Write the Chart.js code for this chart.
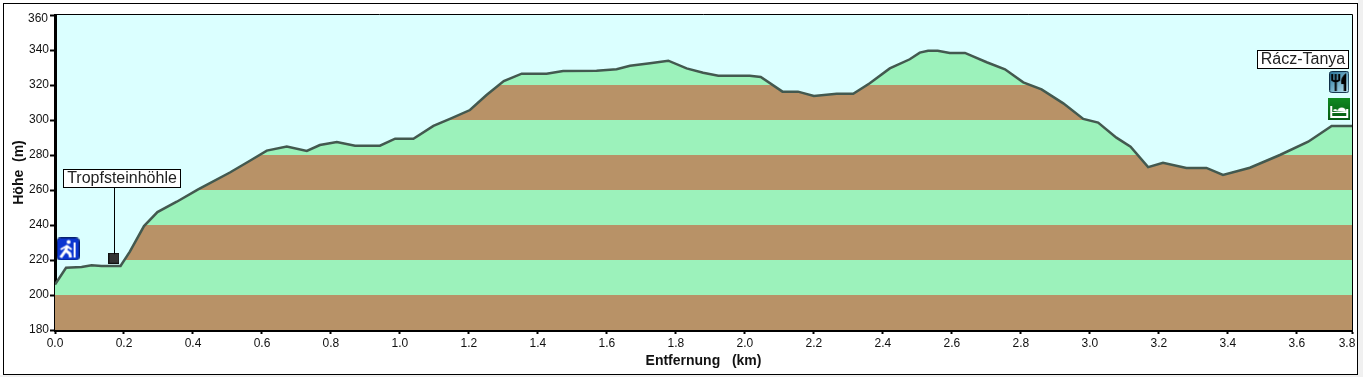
<!DOCTYPE html>
<html lang="de">
<head>
<meta charset="UTF-8">
<title>Höhenprofil</title>
<script src="https://cdn.jsdelivr.net/npm/chart.js"></script>
<style>
    html, body { margin: 0; padding: 0; background: #fff; }
    canvas { display: block; }
</style>
</head>
<body>
<canvas id="profil" width="1363" height="377"></canvas>
<script>
// Streckenprofil
const distanceKm = [0, 0.032, 0.077, 0.106, 0.135, 0.19, 0.217, 0.258, 0.297, 0.353, 0.415, 0.507, 0.565, 0.614, 0.672, 0.73, 0.768, 0.817, 0.87, 0.942, 0.986, 1.039, 1.097, 1.145, 1.203, 1.251, 1.301, 1.353, 1.425, 1.473, 1.57, 1.628, 1.667, 1.725, 1.778, 1.831, 1.879, 1.923, 2.014, 2.046, 2.109, 2.154, 2.2, 2.266, 2.314, 2.362, 2.42, 2.478, 2.507, 2.531, 2.559, 2.594, 2.638, 2.701, 2.754, 2.807, 2.86, 2.923, 2.981, 3.024, 3.077, 3.118, 3.169, 3.212, 3.28, 3.338, 3.386, 3.464, 3.551, 3.633, 3.701, 3.76];
const elevationM = [206, 215.6, 216, 217, 216.6, 216.6, 224.8, 239.4, 247.4, 253.3, 260.4, 270, 276.7, 282.5, 284.8, 282.3, 285.7, 287.4, 285.3, 285.3, 289.3, 289.3, 296.6, 300.6, 305.7, 314.3, 322.3, 326.5, 326.5, 328, 328.2, 329, 331, 332.4, 333.9, 329.5, 327, 325.3, 325.3, 324.6, 316.2, 316.2, 313.7, 315, 315, 321, 329.5, 334.7, 338.5, 339.6, 339.6, 338.3, 338.3, 333, 329, 321.5, 317.5, 309.5, 300.6, 298.5, 289.9, 284.7, 273.1, 275.6, 272.6, 272.6, 268.6, 272.7, 280, 287.6, 296.6, 296.6];

const xTicks = [0, 0.2, 0.4, 0.6, 0.8, 1, 1.2, 1.4, 1.6, 1.8, 2, 2.2, 2.4, 2.6, 2.8, 3, 3.2, 3.4, 3.6, 3.76];
const xTickLabels = ['0.0', '0.2', '0.4', '0.6', '0.8', '1.0', '1.2', '1.4', '1.6', '1.8', '2.0', '2.2', '2.4', '2.6', '2.8', '3.0', '3.2', '3.4', '3.6', '3.8'];
const yTicks = [180, 200, 220, 240, 260, 280, 300, 320, 340, 360];

// Höhenbänder
const bandEdges = [180, 200, 220, 240, 260, 280, 300, 320, 340, 360];
const bandColors = ['#b89267', '#9cf2bb', '#b89267', '#9cf2bb', '#b89267', '#9cf2bb', '#b89267', '#9cf2bb', '#b89267'];

// Symbole: Höhle, Wanderer, Restaurant, Hotel
const poiKm = [0.171, 0.038, 3.723, 3.723];
const poiHeight = [221, 226.3, 321.7, 306.3];

// Beschriftungen
const labelTexts = ['Tropfsteinhöhle', 'Rácz-Tanya'];
const labelKm = [0.194, 3.619];
const labelHeight = [266.6, 334.6];
const labelPoi = [0, null];

function iconCanvas(w, h, draw) {
    const c = document.createElement('canvas');
    c.width = w;
    c.height = h;
    draw(c.getContext('2d'), w, h);
    return c;
}

const caveIcon = iconCanvas(11, 11, (g, w, h) => {
    g.fillStyle = '#333';
    g.fillRect(0, 0, w, h);
    g.strokeStyle = '#111';
    g.strokeRect(0.5, 0.5, w - 1, h - 1);
});

const hikerIcon = iconCanvas(23, 23, (g, w, h) => {
    g.fillStyle = '#0b35d0';
    g.beginPath();
    g.roundRect(0.5, 0.5, w - 1, h - 1, 3);
    g.fill();
    g.strokeStyle = '#06206e';
    g.stroke();
    g.strokeStyle = '#fff';
    g.fillStyle = '#fff';
    g.lineWidth = 3;
    g.beginPath();
    g.arc(12, 4.5, 2, 0, Math.PI * 2);
    g.fill();
    g.beginPath();
    g.moveTo(11, 8); g.lineTo(9, 13); g.lineTo(13, 16); g.lineTo(14, 20);
    g.moveTo(9, 13); g.lineTo(4, 20);
    g.stroke();
    g.lineWidth = 2;
    g.beginPath();
    g.moveTo(11, 8); g.lineTo(4, 12);
    g.moveTo(11, 9); g.lineTo(15, 12);
    g.moveTo(18, 5); g.lineTo(18, 20);
    g.stroke();
});

const foodIcon = iconCanvas(20, 22, (g, w, h) => {
    const grad = g.createLinearGradient(0, 0, w, h);
    grad.addColorStop(0, '#1f6f96');
    grad.addColorStop(1, '#c4ecf8');
    g.fillStyle = grad;
    g.beginPath();
    g.roundRect(0.5, 0.5, w - 1, h - 1, 2);
    g.fill();
    g.strokeStyle = '#0f2f48';
    g.stroke();
    g.strokeStyle = '#000';
    g.fillStyle = '#000';
    g.lineWidth = 2;
    g.beginPath();
    g.moveTo(3, 3); g.lineTo(3, 9); g.quadraticCurveTo(6.5, 12, 10, 9); g.lineTo(10, 3);
    g.moveTo(6.5, 3); g.lineTo(6.5, 20);
    g.stroke();
    g.beginPath();
    g.moveTo(17, 2); g.quadraticCurveTo(11, 6, 12, 13); g.lineTo(14.5, 13); g.lineTo(14.5, 20); g.lineTo(17, 20);
    g.closePath();
    g.fill();
});

const bedIcon = iconCanvas(22, 22, (g, w, h) => {
    const grad = g.createLinearGradient(0, 0, 0, h);
    grad.addColorStop(0, '#0f8a22');
    grad.addColorStop(1, '#075a12');
    g.fillStyle = grad;
    g.fillRect(0, 0, w, h);
    g.fillStyle = '#fff';
    g.fillRect(2, 8, 2, 12);
    g.fillRect(18, 11, 2, 9);
    g.fillRect(2, 18, 18, 2);
    g.fillRect(4, 14, 14, 1);
    g.beginPath();
    g.arc(7, 13, 2, Math.PI, 0);
    g.arc(13.5, 14, 4.5, Math.PI, 0);
    g.fill();
});

const poiIcons = [caveIcon, hikerIcon, foodIcon, bedIcon];

function bandFill(context) {
    const { chart } = context;
    if (!chart.chartArea) return bandColors[0];
    const y = chart.scales.y;
    const grad = chart.ctx.createLinearGradient(0, y.getPixelForValue(180), 0, y.getPixelForValue(360));
    const span = 360 - 180;
    bandColors.forEach((col, i) => {
        grad.addColorStop((bandEdges[i] - 180) / span, col);
        grad.addColorStop((bandEdges[i + 1] - 180) / span, col);
    });
    return grad;
}

// Hintergrund, Rahmen
const framePlugin = {
    id: 'frame',
    beforeDraw(chart) {
        const { ctx, chartArea: a } = chart;
        ctx.save();
        ctx.fillStyle = '#fff';
        ctx.fillRect(0, 0, 1363, 377);
        ctx.fillStyle = '#f0f0f0';
        ctx.fillRect(1358, 0, 5, 377);
        ctx.fillRect(0, 375, 1363, 2);
        ctx.strokeStyle = '#000';
        ctx.lineWidth = 1;
        ctx.strokeRect(3.5, 3.5, 1354, 371);
        ctx.fillStyle = '#dbffff';
        ctx.fillRect(a.left, a.top, a.right - a.left, a.bottom - a.top);
        ctx.restore();
    },
    afterDraw(chart) {
        const { ctx, chartArea: a } = chart;
        ctx.save();
        ctx.strokeStyle = '#000';
        ctx.lineWidth = 1;
        ctx.beginPath();
        ctx.moveTo(a.left, a.top - 0.5);
        ctx.lineTo(a.right + 0.5, a.top - 0.5);
        ctx.lineTo(a.right + 0.5, a.bottom);
        ctx.stroke();
        ctx.restore();
    }
};

// Randbeschriftungen 360 und 3.8 sitzen im Original nach innen versetzt
const edgeLabelPlugin = {
    id: 'edgeLabels',
    afterDraw(chart) {
        const { ctx, scales } = chart;
        ctx.save();
        ctx.font = '12px "Liberation Sans"';
        ctx.fillStyle = '#111';
        ctx.textBaseline = 'middle';
        ctx.textAlign = 'right';
        ctx.fillText('360', 48, scales.y.getPixelForValue(360) + 4);
        ctx.textAlign = 'center';
        ctx.fillText('3.8', scales.x.getPixelForValue(3.76) - 5, 344);
        ctx.restore();
    }
};

// Wegpunkt-Beschriftungen mit Kasten und Hinweislinie
const poiLabelPlugin = {
    id: 'poiLabels',
    afterDatasetsDraw(chart) {
        const { ctx, scales } = chart;
        ctx.save();
        ctx.font = '16px "Liberation Sans"';
        labelTexts.forEach((text, i) => {
            const cx = scales.x.getPixelForValue(labelKm[i]);
            const cy = scales.y.getPixelForValue(labelHeight[i]);
            const w = Math.round(ctx.measureText(text).width) + 8;
            const left = Math.round(cx - w / 2);
            const top = Math.round(cy - 9.5);
            if (labelPoi[i] !== null) {
                const px = Math.round(scales.x.getPixelForValue(poiKm[labelPoi[i]])) + 0.5;
                const py = scales.y.getPixelForValue(poiHeight[labelPoi[i]]);
                ctx.strokeStyle = '#000';
                ctx.lineWidth = 1;
                ctx.beginPath();
                ctx.moveTo(px, top + 19);
                ctx.lineTo(px, py - 4);
                ctx.stroke();
            }
            ctx.fillStyle = '#fff';
            ctx.fillRect(left, top, w, 19);
            ctx.strokeStyle = '#000';
            ctx.lineWidth = 1;
            ctx.strokeRect(left + 0.5, top + 0.5, w - 1, 18);
            ctx.fillStyle = '#222';
            ctx.textAlign = 'center';
            ctx.textBaseline = 'middle';
            ctx.fillText(text, left + w / 2, top + 10);
        });
        ctx.restore();
    }
};

new Chart(document.getElementById('profil'), {
    type: 'line',
    data: {
        datasets: [{
            label: 'Wegpunkte',
            type: 'scatter',
            data: poiKm.map((km, i) => ({ x: km, y: poiHeight[i] })),
            pointStyle: poiIcons,
            pointRadius: 8,
            showLine: false,
            order: 0
        }, {
            label: 'Höhe',
            data: distanceKm.map((km, i) => ({ x: km, y: elevationM[i] })),
            borderColor: '#43594f',
            borderWidth: 2.5,
            pointRadius: 0,
            tension: 0,
            fill: 'start',
            backgroundColor: bandFill,
            order: 1
        }]
    },
    options: {
        responsive: false,
        animation: false,
        events: [],
        layout: { padding: { left: 3, right: 11, top: 15, bottom: 3 } },
        plugins: { legend: { display: false }, tooltip: { enabled: false } },
        font: { family: '"Liberation Sans"' },
        scales: {
            x: {
                type: 'linear',
                min: 0,
                max: 3.76,
                afterBuildTicks: s => { s.ticks = xTicks.map(v => ({ value: v })); },
                afterFit: s => { s.height = 44; },
                border: { color: '#000', width: 3 },
                grid: { drawOnChartArea: false, tickColor: '#000', tickWidth: 2, tickLength: 4 },
                ticks: {
                    color: '#111',
                    font: { family: '"Liberation Sans"', size: 12 },
                    padding: 2,
                    maxRotation: 0,
                    autoSkip: false,
                    callback: (v, i) => (i === xTicks.length - 1 ? '' : xTickLabels[i])
                },
                title: {
                    display: true,
                    text: 'Entfernung   (km)',
                    color: '#111',
                    font: { family: '"Liberation Sans"', size: 14, weight: 'bold' },
                    padding: 4
                }
            },
            y: {
                min: 180,
                max: 360,
                afterBuildTicks: s => { s.ticks = yTicks.map(v => ({ value: v })); },
                afterFit: s => { s.width = 52; },
                border: { color: '#000', width: 3 },
                grid: { drawOnChartArea: false, tickColor: '#000', tickWidth: 2, tickLength: 5 },
                ticks: {
                    color: '#111',
                    font: { family: '"Liberation Sans"', size: 12 },
                    padding: 1,
                    callback: v => (v === 360 ? '' : String(v))
                },
                title: {
                    display: true,
                    text: 'Höhe  (m)',
                    color: '#111',
                    font: { family: '"Liberation Sans"', size: 14, weight: 'bold' },
                    padding: { top: 8, bottom: 0 }
                }
            }
        }
    },
    plugins: [framePlugin, edgeLabelPlugin, poiLabelPlugin]
});
</script>
</body>
</html>
